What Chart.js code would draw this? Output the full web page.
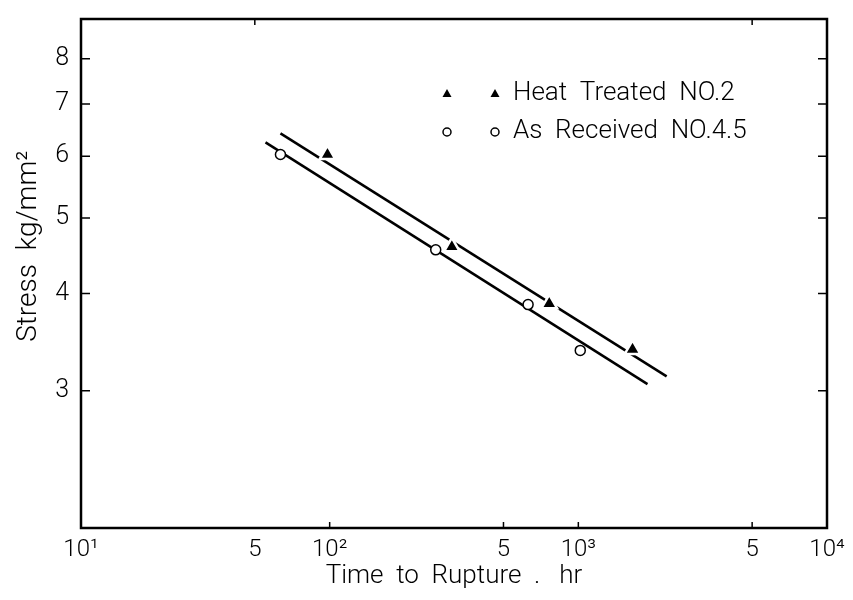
<!DOCTYPE html>
<html>
<head>
<meta charset="utf-8">
<script src="https://cdn.jsdelivr.net/npm/chart.js@4/dist/chart.umd.min.js"></script>
<style>
  html, body { margin: 0; padding: 0; background: #fff; }
  #wrap { width: 853px; height: 600px; position: relative; }
</style>
</head>
<body>
<div id="wrap"><canvas id="chart"></canvas></div>
<script>
// measured points (hours, kg/mm2)
const heatTime = [98, 310, 764, 1652];
const heatStress = [6.03, 4.59, 3.88, 3.39];
const recvTime = [63.4, 267, 628, 1018];
const recvStress = [6.03, 4.55, 3.87, 3.38];

// fitted lines, end points
const heatFitTime = [63.4, 2265];
const heatFitStress = [6.42, 3.13];
const recvFitTime = [55.2, 1897];
const recvFitStress = [6.25, 3.06];

const yTicks = [3, 4, 5, 6, 7, 8];
const xTicks = [10, 50, 100, 500, 1000, 5000, 10000];
const xTickLabels = ["10¹", "5", "10²", "5", "10³", "5", "10⁴"];
const bottomMarks = [100, 500, 1000, 5000];
const topMarks = [50, 5000];

const FONT = "Roboto, 'DejaVu Sans', sans-serif";

const pts = (xs, ys) => xs.map((x, i) => ({ x: x, y: ys[i] }));

// frame + inward tick marks
const framePlugin = {
  id: "frame",
  afterDraw(chart) {
    const { ctx, chartArea: a, scales } = chart;
    ctx.save();
    ctx.strokeStyle = "#000";
    ctx.lineWidth = 2.5;
    ctx.strokeRect(a.left, a.top, a.right - a.left, a.bottom - a.top);
    ctx.lineWidth = 1.5;
    ctx.beginPath();
    yTicks.forEach(v => {
      const y = scales.y.getPixelForValue(v);
      ctx.moveTo(a.left, y); ctx.lineTo(a.left + 9, y);
      ctx.moveTo(a.right, y); ctx.lineTo(a.right - 9, y);
    });
    bottomMarks.forEach(v => {
      const x = scales.x.getPixelForValue(v);
      ctx.moveTo(x, a.bottom); ctx.lineTo(x, a.bottom - 6);
    });
    topMarks.forEach(v => {
      const x = scales.x.getPixelForValue(v);
      ctx.moveTo(x, a.top); ctx.lineTo(x, a.top + 6);
    });
    ctx.stroke();
    ctx.restore();
  }
};

function tri(ctx, x, y, r) {
  ctx.beginPath();
  ctx.moveTo(x, y - r);
  ctx.lineTo(x + r * 0.9, y + r * 0.6);
  ctx.lineTo(x - r * 0.9, y + r * 0.6);
  ctx.closePath();
  ctx.fill();
}
function circ(ctx, x, y, r) {
  ctx.beginPath();
  ctx.arc(x, y, r, 0, Math.PI * 2);
  ctx.fillStyle = "#fff";
  ctx.fill();
  ctx.stroke();
}

const legendPlugin = {
  id: "boxLegend",
  afterDraw(chart) {
    const { ctx } = chart;
    ctx.save();
    ctx.fillStyle = "#000";
    ctx.strokeStyle = "#000";
    ctx.lineWidth = 1.5;
    tri(ctx, 447, 94, 5);
    tri(ctx, 495, 94, 5);
    circ(ctx, 447, 132, 4);
    circ(ctx, 495, 132, 4);
    ctx.fillStyle = "#000";
    ctx.font = "300 26px " + FONT;
    ctx.textBaseline = "middle";
    ctx.fillText("Heat  Treated  NO.2", 513, 93);
    ctx.fillText("As  Received  NO.4.5", 513, 131);
    ctx.restore();
  }
};

new Chart(document.getElementById("chart"), {
  type: "scatter",
  data: {
    datasets: [
      {
        label: "Heat Treated NO.2",
        data: pts(heatTime, heatStress),
        pointStyle: "triangle",
        pointRadius: 9,
        pointBackgroundColor: "#000",
        pointBorderColor: "#fff",
        pointBorderWidth: 2.5,
        order: 0
      },
      {
        label: "As Received NO.4.5",
        data: pts(recvTime, recvStress),
        pointStyle: "circle",
        pointRadius: 5,
        pointBackgroundColor: "#fff",
        pointBorderColor: "#000",
        pointBorderWidth: 1.5,
        order: 0
      },
      {
        label: "fit heat",
        data: pts(heatFitTime, heatFitStress),
        showLine: true,
        borderColor: "#000",
        borderWidth: 2.5,
        pointRadius: 0,
        order: 1
      },
      {
        label: "fit recv",
        data: pts(recvFitTime, recvFitStress),
        showLine: true,
        borderColor: "#000",
        borderWidth: 2.5,
        pointRadius: 0,
        order: 1
      }
    ]
  },
  options: {
    responsive: true,
    maintainAspectRatio: false,
    animation: false,
    layout: { padding: { top: 19, right: 26, left: 0, bottom: 0 } },
    plugins: {
      legend: { display: false },
      tooltip: { enabled: false }
    },
    scales: {
      x: {
        type: "logarithmic",
        min: 10,
        max: 10000,
        afterBuildTicks: s => { s.ticks = xTicks.map(v => ({ value: v })); },
        afterFit: s => { s.height = 72; s.paddingLeft = 0; s.paddingRight = 0; },
        ticks: {
          autoSkip: false,
          maxRotation: 0,
          color: "#000",
          padding: 8,
          font: { family: FONT, size: 24, weight: 300 },
          callback: (v, i) => xTickLabels[i]
        },
        grid: { display: false, drawTicks: false },
        border: { display: false },
        title: {
          display: true,
          text: "Time  to  Rupture  .   hr",
          color: "#000",
          font: { family: FONT, size: 26, weight: 300 },
          padding: { top: 0, bottom: 8 }
        }
      },
      y: {
        type: "logarithmic",
        min: 2,
        max: 9,
        afterBuildTicks: s => { s.ticks = yTicks.map(v => ({ value: v })); },
        afterFit: s => { s.width = 81; s.paddingTop = 0; s.paddingBottom = 0; },
        ticks: {
          autoSkip: false,
          color: "#000",
          padding: 12,
          font: { family: FONT, size: 25, weight: 300 },
          callback: v => String(v)
        },
        grid: { display: false, drawTicks: false },
        border: { display: false },
        title: {
          display: true,
          text: "\u00a0\u00a0\u00a0\u00a0\u00a0\u00a0\u00a0\u00a0Stress  kg/mm²",
          color: "#000",
          font: { family: FONT, size: 28, weight: 300 },
          padding: { top: 12, bottom: 0 }
        }
      }
    }
  },
  plugins: [framePlugin, legendPlugin]
});
</script>
</body>
</html>
